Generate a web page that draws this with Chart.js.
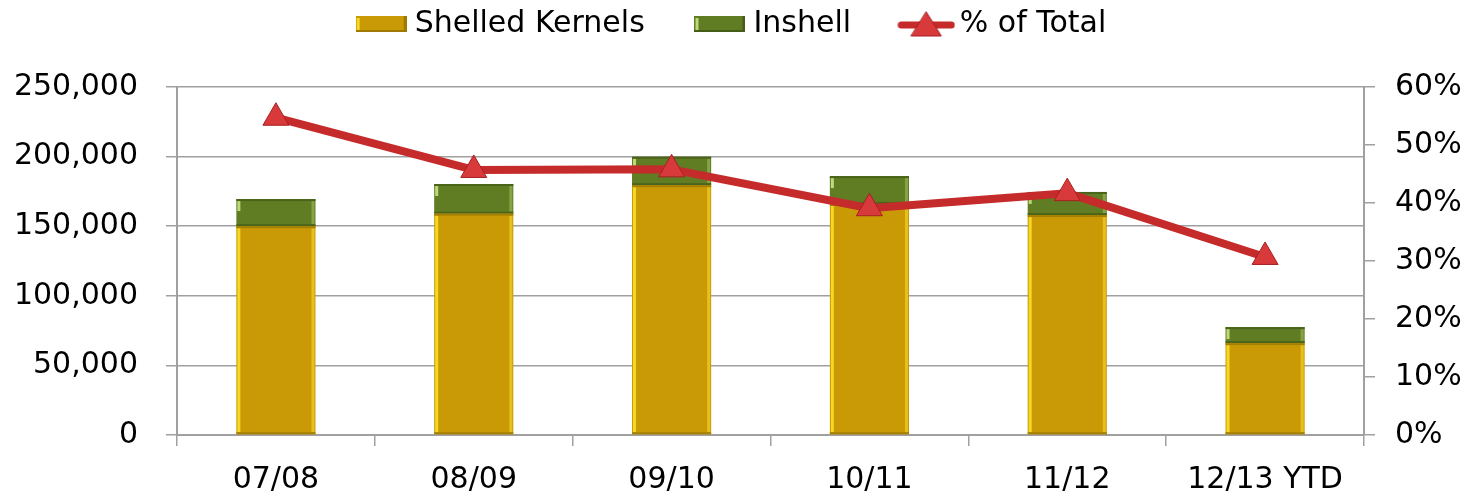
<!DOCTYPE html>
<html>
<head>
<meta charset="utf-8">
<script src="https://cdn.jsdelivr.net/npm/chart.js@4.4.1/dist/chart.umd.min.js"></script>
<style>
  html, body { margin: 0; padding: 0; background: #fff; }
  #wrap { width: 1469px; height: 496px; }
</style>
</head>
<body>
<div id="wrap"><canvas id="c"></canvas></div>
<script>
/* Data */
const categories = ["07/08", "08/09", "09/10", "10/11", "11/12", "12/13 YTD"];
const shelledKernels = [150000, 159000, 179500, 166000, 158000, 66000];
const inshell = [19500, 21300, 20400, 20000, 16600, 11500];
const pctOfTotal = [54.7, 45.7, 45.8, 39.1, 41.7, 30.7];
const seriesNames = ["Shelled Kernels", "Inshell", "% of Total"];

/* Axis ranges */
const leftMax = 250000, leftStep = 50000;
const rightMax = 60, rightStep = 10;

const GRID = "#a0a0a0";
Chart.defaults.font.family = "'DejaVu Sans', sans-serif";
Chart.defaults.font.size = 30;
Chart.defaults.color = "#000";

/* Small canvases used as legend icons */
const makeIcon = (w, h, draw) => {
    const cv = document.createElement("canvas");
    cv.width = w; cv.height = h;
    draw(cv.getContext("2d"), w, h);
    return cv;
};
const barIcon = (main, light, dark) => makeIcon(51, 16, (ctx, w, h) => {
    ctx.fillStyle = main; ctx.fillRect(0, 0, w, h);
    ctx.fillStyle = light; ctx.fillRect(1, 2, 3, h - 4);
    ctx.fillStyle = dark; ctx.fillRect(0, h - 2, w, 2); ctx.fillRect(w - 3, 0, 3, h);
});
const icons = [
    barIcon("#c99a05", "#f6d823", "#a07a00"),
    barIcon("#607d23", "#bfd97a", "#455d18"),
    makeIcon(58, 26, (ctx, w, h) => {
        ctx.strokeStyle = "#c62b2b"; ctx.lineWidth = 7; ctx.lineCap = "round";
        ctx.beginPath(); ctx.moveTo(4, 14); ctx.lineTo(w - 4, 14); ctx.stroke();
        ctx.fillStyle = "#d8393b"; ctx.strokeStyle = "#a61f22"; ctx.lineWidth = 1;
        ctx.beginPath(); ctx.moveTo(29, 1); ctx.lineTo(44, 25); ctx.lineTo(14, 25); ctx.closePath();
        ctx.fill(); ctx.stroke();
    })
];

/* Legend takes the whole band above the plot (plot top sits at y=87) */
const tallLegend = {
    id: "tallLegend",
    beforeUpdate(chart) {
        const lg = chart.legend;
        if (lg && !lg._tall) {
            const fit = lg.fit;
            lg.fit = function () { fit.call(this); this.height = 87; };
            lg._tall = true;
        }
    }
};

/* Bevel highlights on bar edges, drawn from the library's bar elements */
const bevelPlugin = {
    id: "bevel",
    afterDatasetDraw(chart, args) {
        const ds = chart.data.datasets[args.index];
        if (!ds.bevel) return;
        const ctx = chart.ctx;
        const bv = ds.bevel;
        ctx.save();
        args.meta.data.forEach(bar => {
            const l = bar.x - bar.width / 2, r = bar.x + bar.width / 2;
            const t = Math.min(bar.y, bar.base), b = Math.max(bar.y, bar.base);
            ctx.fillStyle = bv.light;
            ctx.fillRect(l + 1, t + 2, 3, bv.short ? Math.min(10, b - t - 4) : b - t - 4);
            ctx.fillStyle = bv.side;
            ctx.fillRect(r - 4, t + 2, 3, b - t - 4);
            ctx.fillStyle = bv.dark;
            ctx.fillRect(l, t, r - l, 2);
            ctx.fillRect(l, b - 2, r - l, 2);
        });
        ctx.restore();
    }
};

new Chart(document.getElementById("c"), {
    data: {
        labels: categories,
        datasets: [
            {
                type: "bar", label: seriesNames[0], data: shelledKernels,
                backgroundColor: "#c99a05", yAxisID: "y", order: 1,
                categoryPercentage: 1, barPercentage: 0.4,
                bevel: { light: "#f6d823", side: "#e6c01c", dark: "#a58000" }
            },
            {
                type: "bar", label: seriesNames[1], data: inshell,
                backgroundColor: "#607d23", yAxisID: "y", order: 1,
                categoryPercentage: 1, barPercentage: 0.4,
                bevel: { light: "#bfd97a", side: "#86a345", dark: "#4a651b", short: true }
            },
            {
                type: "line", label: seriesNames[2], data: pctOfTotal,
                yAxisID: "y1", order: 0,
                borderColor: "#c62b2b", borderWidth: 8, tension: 0,
                borderJoinStyle: "round",
                pointStyle: "triangle", pointRadius: 15,
                pointBackgroundColor: "#d8393b", pointBorderColor: "#a61f22", pointBorderWidth: 1
            }
        ]
    },
    options: {
        responsive: true,
        maintainAspectRatio: false,
        animation: false,
        layout: { padding: 0 },
        plugins: {
            tooltip: { enabled: false },
            legend: {
                position: "top",
                labels: {
                    usePointStyle: true,
                    pointStyleWidth: 37,
                    padding: 9,
                    font: { size: 30 },
                    generateLabels: chart => chart.data.datasets.map((ds, i) => ({
                        text: i < 2 ? ds.label + "     " : ds.label,
                        pointStyle: icons[i],
                        fillStyle: "transparent",
                        strokeStyle: "transparent",
                        lineWidth: 0,
                        hidden: false,
                        datasetIndex: i
                    }))
                }
            }
        },
        scales: {
            x: {
                stacked: true,
                grid: { offset: true, drawOnChartArea: false, color: GRID, lineWidth: 1.5, tickLength: 11 },
                border: { color: GRID, width: 2 },
                ticks: { padding: 16, maxRotation: 0, autoSkip: false },
                afterFit: s => { s.height = 61; }
            },
            y: {
                stacked: true, position: "left",
                min: 0, max: leftMax,
                grid: { color: GRID, lineWidth: 1.5, tickLength: 11 },
                border: { color: GRID, width: 2 },
                ticks: { stepSize: leftStep, padding: 28, callback: v => v.toLocaleString("en-US") },
                afterFit: s => { s.width = 177; }
            },
            y1: {
                position: "right",
                min: 0, max: rightMax,
                grid: { drawOnChartArea: false, color: GRID, lineWidth: 1.5, tickLength: 11 },
                border: { color: GRID, width: 2 },
                ticks: { stepSize: rightStep, padding: 20, callback: v => v + "%" },
                afterFit: s => { s.width = 105; }
            }
        }
    },
    plugins: [tallLegend, bevelPlugin]
});
</script>
</body>
</html>
